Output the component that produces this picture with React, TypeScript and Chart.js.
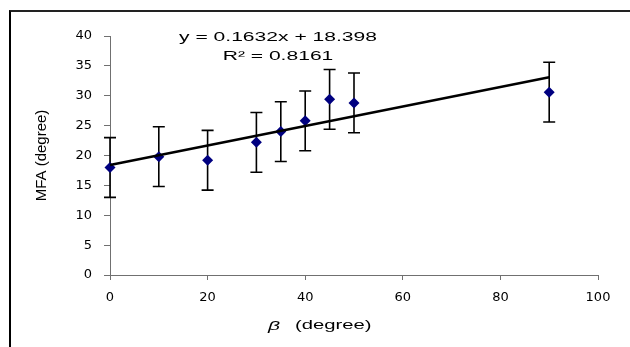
import React, { useEffect, useRef } from 'react';
import { Chart, registerables } from 'chart.js';

Chart.register(...registerables);

// ---- data ----
const betaValues = [0, 10, 20, 30, 35, 40, 45, 50, 90];
const mfaValues = [18.0, 19.8, 19.2, 22.2, 24.0, 25.8, 29.4, 28.8, 30.6];
const mfaErrors = [5, 5, 5, 5, 5, 5, 5, 5, 5];
const trendX = [0, 90];
const trendY = [18.398, 33.086];
const equationLines = ['y = 0.1632x + 18.398', 'R\u00B2 = 0.8161'];
const xTickValues = [0, 20, 40, 60, 80, 100];
const yTickValues = [0, 5, 10, 15, 20, 25, 30, 35, 40];
const xTitleSymbol = '\u03B2';
const xTitleText = '(degree)';
const yTitleText = 'MFA (degree)';

const TEXT_STRETCH = 1.62;

function stretchedText(ctx: CanvasRenderingContext2D, text: string, x: number, y: number, font: string, align: CanvasTextAlign) {
  ctx.save();
  ctx.font = font;
  ctx.fillStyle = '#000';
  ctx.textAlign = align;
  ctx.textBaseline = 'alphabetic';
  ctx.translate(x, y);
  ctx.scale(TEXT_STRETCH, 1);
  ctx.fillText(text, 0, 0);
  ctx.restore();
}

const errorBarPlugin = {
  id: 'errorBars',
  beforeDatasetsDraw(chart: any) {
    const { ctx, scales } = chart;
    const xs = scales.x;
    const ys = scales.y;
    ctx.save();
    ctx.strokeStyle = '#000';
    ctx.lineWidth = 1.6;
    betaValues.forEach((b, i) => {
      const px = xs.getPixelForValue(b);
      const top = ys.getPixelForValue(mfaValues[i] + mfaErrors[i]);
      const bot = ys.getPixelForValue(mfaValues[i] - mfaErrors[i]);
      ctx.beginPath();
      ctx.moveTo(px, top);
      ctx.lineTo(px, bot);
      ctx.moveTo(px - 6, top);
      ctx.lineTo(px + 6, top);
      ctx.moveTo(px - 6, bot);
      ctx.lineTo(px + 6, bot);
      ctx.stroke();
    });
    ctx.restore();
  },
};

const annotationPlugin = {
  id: 'textAnnotations',
  afterDraw(chart: any) {
    const { ctx, chartArea } = chart;
    const eqX = chartArea.left + 168;
    stretchedText(ctx, equationLines[0], eqX, chartArea.top + 5, '13px "Liberation Sans", Arial, sans-serif', 'center');
    stretchedText(ctx, equationLines[1], eqX, chartArea.top + 24, '13px "Liberation Sans", Arial, sans-serif', 'center');
    stretchedText(ctx, xTitleSymbol, chartArea.left + 158, chartArea.bottom + 55, 'italic 13px "Liberation Sans", Arial, sans-serif', 'left');
    stretchedText(ctx, xTitleText, chartArea.left + 185, chartArea.bottom + 53.5, '12.5px "Liberation Sans", Arial, sans-serif', 'left');
  },
};

export default function App() {
  const canvasRef = useRef<HTMLCanvasElement | null>(null);

  useEffect(() => {
    if (!canvasRef.current) return;
    const axisColor = '#707070';
    const tickFont = { family: '"DejaVu Sans", sans-serif', size: 13 };
    const chart = new Chart(canvasRef.current, {
      type: 'scatter',
      data: {
        datasets: [
          {
            type: 'line',
            label: 'trend',
            data: trendX.map((x, i) => ({ x, y: trendY[i] })),
            borderColor: '#000',
            borderWidth: 2.5,
            pointRadius: 0,
            fill: false,
            clip: false,
            order: 0,
          } as any,
          {
            type: 'scatter',
            label: 'MFA',
            data: betaValues.map((x, i) => ({ x, y: mfaValues[i] })),
            backgroundColor: '#000080',
            borderColor: '#000080',
            borderWidth: 0,
            pointStyle: 'rectRot',
            pointRadius: 5.5,
            clip: false,
            order: 1,
          } as any,
        ],
      },
      options: {
        animation: false,
        responsive: false,
        devicePixelRatio: 1,
        layout: { padding: { left: 10, top: 36, right: 32, bottom: 10 } },
        plugins: {
          legend: { display: false },
          tooltip: { enabled: false },
        },
        scales: {
          x: {
            type: 'linear',
            min: 0,
            max: 100,
            afterBuildTicks: (scale: any) => {
              scale.ticks = xTickValues.map((v) => ({ value: v }));
            },
            afterFit: (scale: any) => {
              scale.height = 62;
            },
            grid: {
              display: true,
              drawOnChartArea: false,
              drawTicks: true,
              tickLength: 5,
              color: axisColor,
            },
            border: { display: true, color: axisColor, width: 1 },
            ticks: { color: '#000', font: tickFont, padding: 10, maxRotation: 0 },
            title: { display: false },
          },
          y: {
            type: 'linear',
            min: 0,
            max: 40,
            afterBuildTicks: (scale: any) => {
              scale.ticks = yTickValues.map((v) => ({ value: v }));
            },
            afterFit: (scale: any) => {
              scale.width = 100;
            },
            grid: {
              display: true,
              drawOnChartArea: false,
              drawTicks: true,
              tickLength: 6,
              color: axisColor,
            },
            border: { display: true, color: axisColor, width: 1 },
            ticks: { color: '#000', font: tickFont, padding: 12 },
            title: {
              display: true,
              text: yTitleText,
              color: '#000',
              font: { family: '"Liberation Sans", Arial, sans-serif', size: 15 },
              padding: { top: 23, bottom: 0 },
            },
          },
        },
      },
      plugins: [errorBarPlugin, annotationPlugin],
    });
    return () => chart.destroy();
  }, []);

  return (
    <div
      style={{
        position: 'fixed',
        left: 0,
        top: 0,
        width: 630,
        height: 347,
        overflow: 'hidden',
        background: '#fff',
      }}
    >
      <div
        style={{
          position: 'absolute',
          left: 9,
          top: 10,
          width: 640,
          height: 360,
          borderLeft: '2px solid #000',
          borderTop: '2px solid #222',
          boxSizing: 'border-box',
        }}
      />
      <canvas ref={canvasRef} width={630} height={347} style={{ position: 'absolute', left: 0, top: 0 }} />
    </div>
  );
}
